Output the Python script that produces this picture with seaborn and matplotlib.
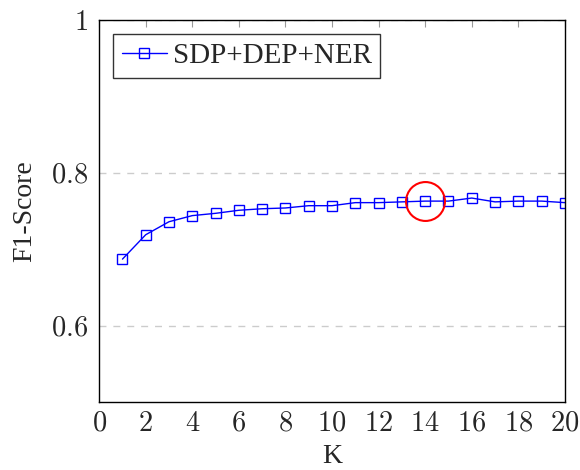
import numpy as np
import pandas as pd
import matplotlib
matplotlib.use('Agg')
import matplotlib.pyplot as plt
import seaborn as sns

# values
k_values = list(range(1, 21))
f1_scores = [0.687, 0.719, 0.736, 0.744, 0.747, 0.751, 0.753, 0.754, 0.757, 0.757,
             0.761, 0.761, 0.762, 0.763, 0.763, 0.767, 0.762, 0.763, 0.763, 0.761]
series_name = 'SDP+DEP+NER'
highlight_k = 14
highlight_f1 = 0.763

df = pd.DataFrame({'K': k_values, 'F1-Score': f1_scores})

sns.set_style('white')
plt.rcParams['font.family'] = ['Liberation Serif', 'DejaVu Serif']
plt.rcParams['mathtext.fontset'] = 'cm'

fig = plt.figure(figsize=(5.8, 4.7), dpi=100)
ax = fig.add_axes([0.171, 0.145, 0.803, 0.812])

sns.lineplot(data=df, x='K', y='F1-Score', ax=ax, color='blue', linewidth=1.0,
             marker='s', markersize=7, markerfacecolor='none', markeredgecolor='blue',
             markeredgewidth=1.0, label=series_name)

# highlighted point
ax.plot([highlight_k], [highlight_f1], marker='o', markersize=28, markerfacecolor='none',
        markeredgecolor='red', markeredgewidth=1.5, linestyle='none')

ax.set_xlim(0, 20)
ax.set_ylim(0.5, 1.0)
ax.set_xticks(range(0, 21, 2))
ax.set_xticklabels([f'${v}$' for v in range(0, 21, 2)])
ax.set_yticks([0.6, 0.8, 1.0])
ax.set_yticklabels(['$0.6$', '$0.8$', '$1$'])
ax.yaxis.grid(True, linestyle=(0, (5, 5)), color='#cccccc', linewidth=1.0)
ax.set_axisbelow(True)
ax.tick_params(axis='both', direction='in', length=5, labelsize=20.5, color='#999999',
               top=True, right=True, pad=7)
ax.tick_params(axis='y', pad=8)

for side in ax.spines.values():
    side.set_color('black')
    side.set_linewidth(1.0)

ax.set_xlabel('K', fontsize=20, labelpad=5)
ax.set_ylabel('F1-Score', fontsize=20, labelpad=10)

leg = ax.legend(loc='upper left', fontsize=21, frameon=True, fancybox=False,
                edgecolor='black', handlelength=1.55, handletextpad=0.2, borderpad=0.3,
                borderaxespad=0.47)
leg.get_frame().set_linewidth(1.0)

plt.savefig('out.png', dpi=100)
